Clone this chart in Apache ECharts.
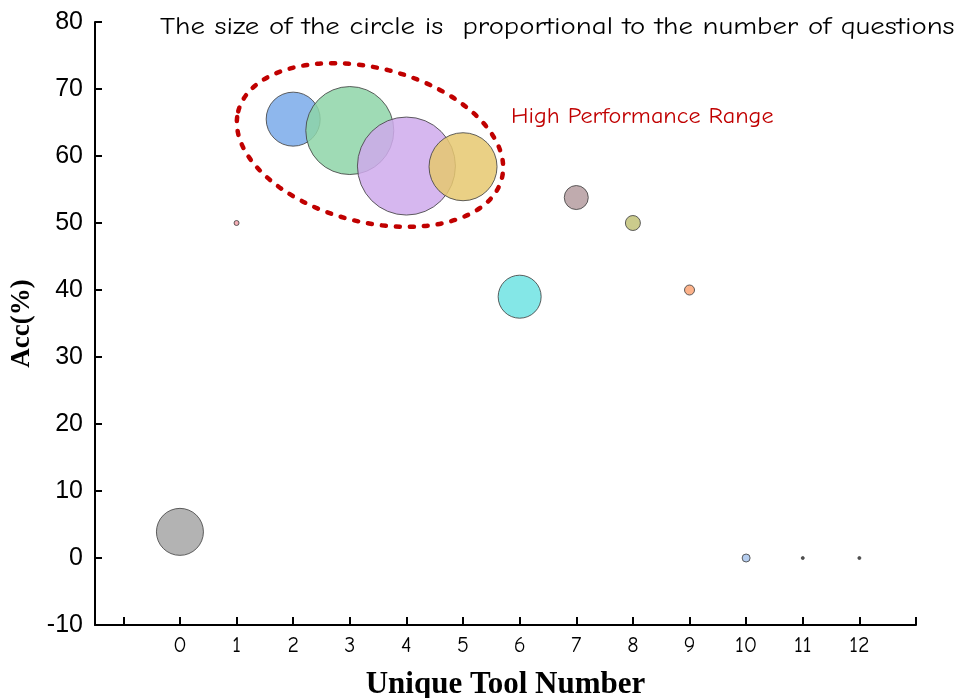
<!DOCTYPE html>
<html>
<head>
<meta charset="utf-8">
<script src="https://cdn.jsdelivr.net/npm/echarts@6/dist/echarts.min.js"></script>
<style>
  html, body { margin: 0; padding: 0; background: #fff; }
  #chart { width: 961px; height: 698px; }
</style>
</head>
<body>
<div id="chart"></div>
<script>
  // tool count vs accuracy, bubble size ~ number of questions
  var toolNumber = [0, 1, 2, 3, 4, 5, 6, 7, 8, 9, 10, 11, 12];
  var accuracy = [3.9, 50, 65.5, 63.8, 58.5, 58.4, 39, 53.8, 50, 40, 0, 0, 0];
  var questionSize = [47, 5, 54, 88, 98, 68, 43, 24, 15, 10, 8, 3, 3];
  var bubbleColors = ['#a6a6a6', '#f2a0a8', '#7aaaea', '#8ed5a8', '#cfaaec', '#e6c870',
    '#6ee3e3', '#b59ca0', '#c2c278', '#fca575', '#a8c4ec', '#333333', '#333333'];
  var xTickValues = [-1, 0, 1, 2, 3, 4, 5, 6, 7, 8, 9, 10, 11, 12, 13];
  var xLabelValues = [0, 1, 2, 3, 4, 5, 6, 7, 8, 9, 10, 11, 12];

  var comic = "'Comic Sans MS', 'Comic Neue', 'Noto Sans', sans-serif";
  var chart = echarts.init(document.getElementById('chart'));

  var points = toolNumber.map(function (x, i) {
    return {
      value: [x, accuracy[i], questionSize[i]],
      itemStyle: { color: bubbleColors[i] }
    };
  });

  chart.setOption({
    animation: false,
    grid: { left: 95, right: 45, top: 22, bottom: 73, outerBoundsMode: 'none' },
    xAxis: {
      type: 'value',
      min: -1.5,
      max: 13,
      name: 'Unique Tool Number',
      nameLocation: 'middle',
      nameGap: 44,
      nameTextStyle: { fontFamily: 'Liberation Serif', fontWeight: 'bold', fontSize: 31, color: '#000' },
      axisLine: { onZero: false, lineStyle: { color: '#000', width: 2 } },
      axisTick: { show: true, inside: true, length: 8, customValues: xTickValues, lineStyle: { color: '#000', width: 2 } },
      axisLabel: { customValues: xLabelValues, margin: 10, fontFamily: comic, fontSize: 22, color: '#000' },
      splitLine: { show: false }
    },
    yAxis: {
      type: 'value',
      min: -10,
      max: 80,
      interval: 10,
      name: 'Acc(%)',
      nameLocation: 'middle',
      nameGap: 58,
      nameTextStyle: { fontFamily: 'Liberation Serif', fontWeight: 'bold', fontSize: 27, color: '#000' },
      axisLine: { show: true, onZero: false, lineStyle: { color: '#000', width: 2 } },
      axisTick: { show: true, inside: true, length: 7, lineStyle: { color: '#000', width: 2 } },
      axisLabel: { margin: 12, fontFamily: 'Liberation Sans', fontSize: 25, color: '#000' },
      splitLine: { show: false }
    },
    series: [{
      type: 'scatter',
      data: points,
      symbolSize: function (d) { return d[2]; },
      itemStyle: { opacity: 0.85, borderColor: '#444', borderWidth: 1 }
    }],
    graphic: [
      {
        type: 'text',
        x: 160,
        y: 15,
        scaleX: 1.2,
        style: { text: 'The size of the circle is  proportional to the number of questions', font: '24px ' + comic, fill: '#000' }
      },
      {
        type: 'text',
        x: 511,
        y: 106,
        scaleX: 1.1,
        style: { text: 'High Performance Range', font: '22px ' + comic, fill: '#c00000' }
      },
      {
        type: 'ellipse',
        x: 370,
        y: 145,
        rotation: -0.25,
        shape: { cx: 0, cy: 0, rx: 136, ry: 77 },
        style: { fill: 'none', stroke: '#c00000', lineWidth: 4.5, lineDash: [4, 10], lineCap: 'round' },
        z: 10
      }
    ]
  });
</script>
</body>
</html>
